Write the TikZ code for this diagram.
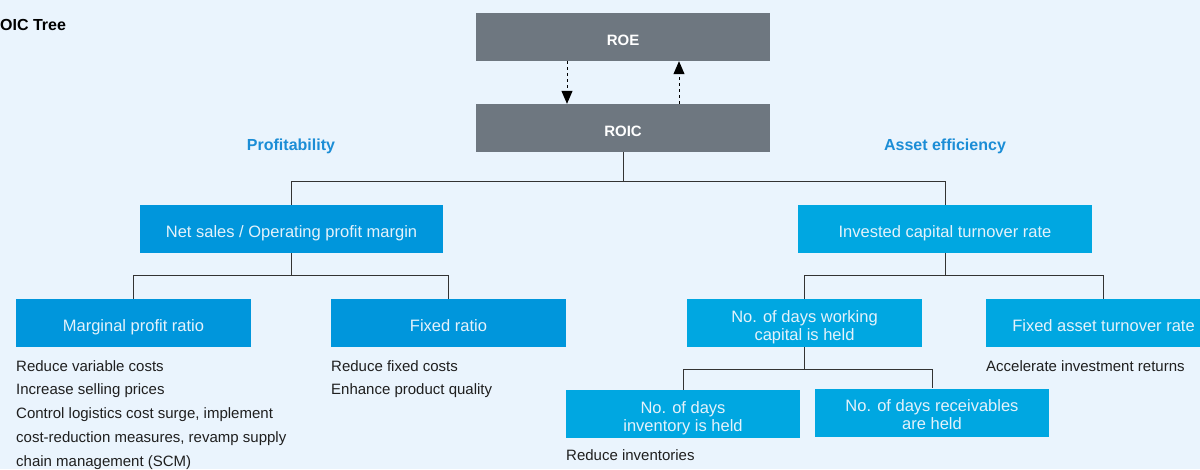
\documentclass[tikz,border=0pt]{standalone}
\usepackage{fontspec}
\setmainfont{Liberation Sans}
\usetikzlibrary{arrows.meta}
\definecolor{bgc}{HTML}{EAF4FD}
\definecolor{grayc}{HTML}{6E7780}
\definecolor{blued}{HTML}{0096DC}
\definecolor{bluel}{HTML}{00A7E1}
\definecolor{boxtext}{HTML}{E4F2FB}
\definecolor{headc}{HTML}{1B8DD6}
\definecolor{linec}{HTML}{333333}
\newcommand\bxt[1]{\raisebox{-4.5pt}[\height][\depth]{\begin{tabular}{@{}c@{}}#1\end{tabular}}}
\tikzset{
  topbox/.style={fill=grayc, text=white, font=\fontsize{15}{18}\selectfont\bfseries, minimum width=294pt, minimum height=48pt, inner sep=0pt},
  darkbox/.style={fill=blued, text=boxtext, font=\fontsize{16.5}{18}\selectfont, minimum height=48pt, inner sep=0pt},
  lightbox/.style={fill=bluel, text=boxtext, font=\fontsize{16.5}{18}\selectfont, minimum height=48pt, inner sep=0pt},
  head/.style={text=headc, font=\fontsize{16}{18}\selectfont\bfseries, inner sep=0pt},
  note/.style={anchor=base west, font=\fontsize{15}{18}\selectfont, text=black!88, inner sep=0pt},
  conn/.style={draw=linec, line width=1pt},
  dasharrow/.style={draw=black, line width=1pt, dash pattern=on 3pt off 3pt, -{Triangle[width=11pt,length=13pt]}}
}
\begin{document}
\begin{tikzpicture}[x=1pt,y=-1pt]
\fill[bgc] (0,0) rectangle (1200,469);
\useasboundingbox (0,0) rectangle (1200,469);

\node[anchor=base west, font=\fontsize{16}{18}\selectfont\bfseries, inner sep=0pt] (title) at (0,30) {OIC Tree};

\node[topbox] (roe) at (623,37) {\bxt{ROE}};
\node[topbox] (roic) at (623,128) {\bxt{ROIC}};

\coordinate (d1) at (567,0);
\coordinate (d2) at (679,0);
\draw[dasharrow] (roe.south -| d1) -- (roic.north -| d1);
\draw[dasharrow] (roic.north -| d2) -- (roe.south -| d2);

\node[head] (prof) at (291,146.5) {Profitability};
\node[head] (asset) at (945,146.5) {Asset efficiency};

\node[darkbox, minimum width=303pt] (ns) at (291.5,229) {\bxt{Net sales / Operating profit margin}};
\node[lightbox, minimum width=294pt] (ic) at (945,229) {\bxt{Invested capital turnover rate}};

\node[darkbox, minimum width=235pt] (mp) at (133.5,323) {\bxt{Marginal profit ratio}};
\node[darkbox, minimum width=235pt] (fr) at (448.5,323) {\bxt{Fixed ratio}};
\node[lightbox, minimum width=235pt] (wc) at (804.5,323) {\bxt{No. of days working\\capital is held}};
\node[lightbox, minimum width=235pt] (fa) at (1103.5,323) {\bxt{Fixed asset turnover rate}};
\node[lightbox, minimum width=234pt] (inv) at (683,414) {\bxt{No. of days\\inventory is held}};
\node[lightbox, minimum width=234pt] (rec) at (932,412.5) {\bxt{No. of days receivables\\are held}};

% connectors
\coordinate (j1) at (623,181);
\draw[conn] (roic.south) -- (j1);
\draw[conn] (j1) -| (ns.north);
\draw[conn] (j1) -| (ic.north);

\coordinate (j2) at (291.5,275);
\draw[conn] (ns.south) -- (j2);
\draw[conn] (j2) -| (mp.north);
\draw[conn] (j2) -| (fr.north);

\coordinate (j3) at (945,275);
\draw[conn] (ic.south) -- (j3);
\draw[conn] (j3) -| (wc.north);
\draw[conn] (j3) -| (fa.north);

\coordinate (j4) at (804.5,369);
\draw[conn] (wc.south) -- (j4);
\draw[conn] (j4) -| (inv.north);
\draw[conn] (j4) -| (rec.north);

% notes
\node[note] (n1) at (16,371) {Reduce variable costs};
\node[note] (n2) at (16,394.5) {Increase selling prices};
\node[note] (n3) at (16,418) {Control logistics cost surge, implement};
\node[note] (n4) at (16,442) {cost-reduction measures, revamp supply};
\node[note] (n5) at (16,466) {chain management (SCM)};
\node[note] (n6) at (331,371) {Reduce fixed costs};
\node[note] (n7) at (331,394.5) {Enhance product quality};
\node[note] (n8) at (986,371) {Accelerate investment returns};
\node[note] (n9) at (566,460) {Reduce inventories};
\end{tikzpicture}
\end{document}
